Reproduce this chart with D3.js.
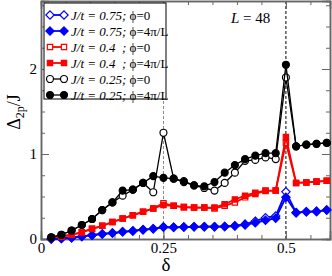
<!DOCTYPE html>
<html><head><meta charset="utf-8">
<script src="https://cdn.jsdelivr.net/npm/d3@7"></script>
<style>body{margin:0;background:#fff}svg{display:block}text{font-family:"Liberation Serif","DejaVu Serif",serif}</style>
</head><body><svg id="c" width="332" height="276"></svg>
<script>
const n = d3.range(1, 29);
const delta = n.map(k => k / 48);
const blueOpen   = [0,0.005,0.015,0.03,0.045,0.06,0.07,0.085,0.095,0.11,0.12,0.14,0.137,0.14,0.143,0.145,0.145,0.147,0.155,0.175,0.21,0.25,0.27,0.555,0.31,0.32,0.325,0.34];
const blueFilled = [0,0.005,0.015,0.03,0.045,0.06,0.07,0.085,0.095,0.11,0.12,0.14,0.137,0.14,0.143,0.145,0.145,0.147,0.153,0.165,0.19,0.22,0.245,0.49,0.31,0.32,0.325,0.34];
const redOpen    = [0.02,0.03,0.05,0.08,0.12,0.155,0.2,0.24,0.28,0.32,0.36,0.42,0.39,0.375,0.37,0.37,0.36,0.39,0.43,0.49,0.53,0.565,0.57,1.13,0.66,0.665,0.675,0.685];
const redFilled  = [0.02,0.03,0.05,0.08,0.12,0.155,0.2,0.24,0.28,0.32,0.36,0.40,0.39,0.375,0.37,0.37,0.37,0.41,0.465,0.51,0.545,0.57,0.57,1.2,0.66,0.665,0.675,0.685];
const blackOpen  = [0.02,0.05,0.1,0.165,0.235,0.34,0.43,0.51,0.58,0.66,0.55,1.25,0.71,0.68,0.63,0.60,0.57,0.66,0.78,0.92,0.93,0.96,0.94,1.90,1.09,1.11,1.12,1.13];
const blackFilled= [0.02,0.05,0.1,0.165,0.235,0.34,0.43,0.57,0.58,0.66,0.74,0.72,0.71,0.67,0.63,0.62,0.67,0.78,0.87,0.94,0.98,1.01,1.01,2.05,1.09,1.11,1.12,1.13];
const xTicks = [0, 0.25, 0.5];
const xTickLabels = ["0", "0.25", "0.5"];
const yTicks = [0, 1, 2];
const yTickLabels = ["0", "1", "2"];
const legendLabels = [
  ["J/t = 0.75;", "ϕ=0"], ["J/t = 0.75;", "ϕ=4π/L"],
  ["J/t = 0.4  ;", "ϕ=0"], ["J/t = 0.4  ;", "ϕ=4π/L"],
  ["J/t = 0.25;", "ϕ=0"], ["J/t = 0.25;", "ϕ=4π/L"]
];

const series = [
  {v: blueOpen, color: "#0000ff", shape: "diamond", filled: false},
  {v: blueFilled, color: "#0000ff", shape: "diamond", filled: true},
  {v: redOpen, color: "#ff0000", shape: "square", filled: false},
  {v: redFilled, color: "#ff0000", shape: "square", filled: true},
  {v: blackOpen, color: "#000000", shape: "circle", filled: false},
  {v: blackFilled, color: "#000000", shape: "circle", filled: true}
];

const svg = d3.select("#c");
const L = 41, R = 330, T = 1, B = 239;
const x = d3.scaleLinear().domain([0, 0.59]).range([L, R]);
const y = d3.scaleLinear().domain([0, 2.8]).range([B, T]);

// dashed lines
svg.append("line").attr("x1", x(0.25)).attr("x2", x(0.25)).attr("y1", B).attr("y2", T)
  .attr("stroke", "#888").attr("stroke-dasharray", "3,2").attr("stroke-width", 1);
svg.append("line").attr("x1", x(0.5)).attr("x2", x(0.5)).attr("y1", B).attr("y2", T)
  .attr("stroke", "#000").attr("stroke-dasharray", "3,2").attr("stroke-width", 1);

// axes with inward ticks
const frame = svg.append("g");
function axisG(axis, tr) { return frame.append("g").attr("transform", tr).call(axis); }
const xMinor = d3.range(0, 0.59, 0.05);
const yMinor = d3.range(0, 2.8, 0.25);
axisG(d3.axisBottom(x).tickValues(xMinor).tickSize(-4).tickFormat(""), `translate(0,${B})`);
axisG(d3.axisBottom(x).tickValues(xTicks).tickSize(-8).tickFormat((d,i)=>xTickLabels[i]).tickPadding(3), `translate(0,${B})`);
axisG(d3.axisTop(x).tickValues(xMinor).tickSize(-4).tickFormat(""), `translate(0,${T})`);
axisG(d3.axisTop(x).tickValues(xTicks).tickSize(-8).tickFormat(""), `translate(0,${T})`);
axisG(d3.axisLeft(y).tickValues(yMinor).tickSize(-4).tickFormat(""), `translate(${L},0)`);
axisG(d3.axisLeft(y).tickValues(yTicks).tickSize(-8).tickFormat((d,i)=>yTickLabels[i]).tickPadding(4), `translate(${L},0)`);
axisG(d3.axisRight(y).tickValues(yMinor).tickSize(-4).tickFormat(""), `translate(${R},0)`);
axisG(d3.axisRight(y).tickValues(yTicks).tickSize(-8).tickFormat(""), `translate(${R},0)`);
frame.selectAll(".domain").attr("stroke", "#666").attr("stroke-width", 1.5);
frame.selectAll(".tick line").attr("stroke", "#666");
frame.selectAll(".tick text").attr("font-size", 15).attr("fill", "#000")
  .attr("font-family", "Liberation Serif");

function markerPath(shape) {
  if (shape === "diamond") return d3.symbol(d3.symbolDiamond2, 44)();
  if (shape === "square") return d3.symbol(d3.symbolSquare2, 36)();
  return d3.symbol(d3.symbolCircle, 38)();
}

const plot = svg.append("g");
series.forEach(s => {
  const line = d3.line().x((d,i)=>x(delta[i])).y(d=>y(d));
  plot.append("path").datum(s.v).attr("d", line).attr("fill", "none")
    .attr("stroke", s.color).attr("stroke-width", s.color === "#000000" ? 1.3 : 1.8);
  plot.selectAll(null).data(s.v).enter().append("path")
    .attr("d", markerPath(s.shape))
    .attr("transform", (d,i)=>`translate(${x(delta[i])},${y(d)})`)
    .attr("fill", s.filled ? s.color : "#fff").attr("stroke", s.color).attr("stroke-width", 1.2);
});

// legend
const lg = svg.append("g");
lg.append("rect").attr("x", 44).attr("y", 3).attr("width", 122).attr("height", 96)
  .attr("fill", "#fff").attr("stroke", "#000").attr("stroke-width", 1);
legendLabels.forEach((lab, i) => {
  const s = series[i], yy = 15 + i * 16;
  lg.append("line").attr("x1", 50).attr("x2", 64).attr("y1", yy).attr("y2", yy)
    .attr("stroke", s.color).attr("stroke-width", s.color === "#000000" ? 1.3 : 1.8);
  [50, 64].forEach(xx => lg.append("path").attr("d", markerPath(s.shape))
    .attr("transform", `translate(${xx},${yy})`)
    .attr("fill", s.filled ? s.color : "#fff").attr("stroke", s.color).attr("stroke-width", 1.2));
  const t = lg.append("text").attr("x", 71).attr("y", yy + 4.5).attr("font-size", 13).attr("fill", "#000")
    .attr("xml:space", "preserve");
  t.append("tspan").attr("font-style", "italic").text(lab[0] + " ");
  t.append("tspan").text(lab[1]);
});

// L = 48
const lt = svg.append("text").attr("x", 231).attr("y", 23).attr("font-size", 15);
lt.append("tspan").attr("font-style", "italic").text("L");
lt.append("tspan").text(" = 48");

// axis titles
svg.append("text").attr("x", 166).attr("y", 271).attr("text-anchor", "middle")
  .attr("font-size", 19).text("δ");
const yl = svg.append("text").attr("transform", "translate(20,112) rotate(-90)")
  .attr("text-anchor", "middle").attr("font-size", 18);
yl.append("tspan").text("Δ");
yl.append("tspan").attr("font-size", 12).attr("dy", 4).text("2p");
yl.append("tspan").attr("dy", -4).text("/J");
</script></body></html>
